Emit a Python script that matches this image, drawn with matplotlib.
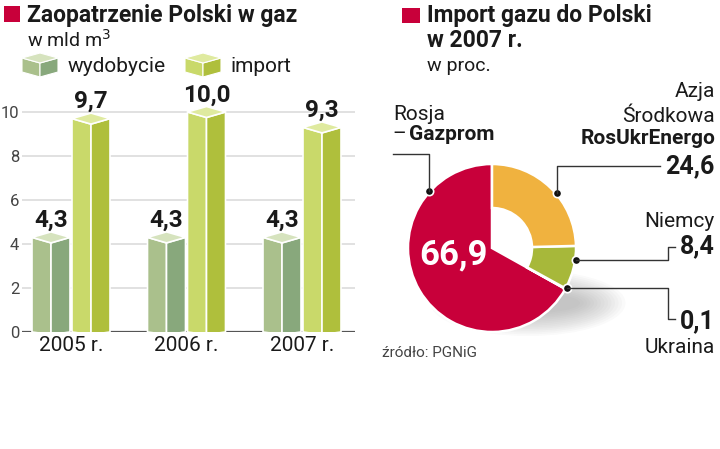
import numpy as np
import matplotlib
matplotlib.use("Agg")
import matplotlib.pyplot as plt
from matplotlib.patches import Polygon, Rectangle, Ellipse

plt.rcParams['font.family'] = ['Roboto', 'DejaVu Sans']

# ──────────────────────────────────────────────────────────────
# DANE
# ──────────────────────────────────────────────────────────────
years = ["2005 r.", "2006 r.", "2007 r."]
wydobycie = [4.3, 4.3, 4.3]
import_gaz = [9.7, 10.0, 9.3]
y_ticks = [0, 2, 4, 6, 8, 10]

pie_names = ["Rosja – Gazprom", "Azja Środkowa RosUkrEnergo", "Niemcy", "Ukraina"]
pie_values = [66.9, 24.6, 8.4, 0.1]
# ──────────────────────────────────────────────────────────────

RED = "#C8003A"
ORANGE = "#F0B23F"
GREEN_PIE = "#A7B83A"
WYD = ("#AAC08C", "#88A87C", "#D6E3BE")   # lewa, prawa, góra
IMP = ("#C9D96A", "#AFBF3C", "#DFEA9F")
TXT = "#1a1a1a"

W, H = 720, 449
fig = plt.figure(figsize=(W / 100, H / 100), dpi=100)


def fr(x0, y0, x1, y1):
    """prostokąt w pikselach (góra-lewo) -> ułamki figury"""
    return [x0 / W, 1 - y1 / H, (x1 - x0) / W, (y1 - y0) / H]


def num(v):
    return f"{v:.1f}".replace(".", ",")


# ── Wykres słupkowy ──────────────────────────────────────────
ax = fig.add_axes(fr(22, 90, 355, 332))
px_unit = 115.5
ax.set_xlim((22 - 71) / px_unit, (355 - 71) / px_unit)
ax.set_ylim(0, 11)
for s in ax.spines.values():
    s.set_visible(False)
ax.set_yticks(y_ticks)
ax.set_yticklabels([str(t) for t in y_ticks], fontsize=12, color="#444")
ax.set_xticks(range(len(years)))
ax.set_xticklabels(years, fontsize=15, color=TXT)
ax.tick_params(length=0)
ax.tick_params(axis="y", pad=2)
ax.tick_params(axis="x", pad=3)
ax.yaxis.grid(True, color="#D8D8D8", lw=1.1)
ax.set_axisbelow(True)
ax.axhline(0, color="#555", lw=1.6, zorder=1)

half = 19 / px_unit
off = 20 / px_unit
d = 0.25


def bar3d(x, v, cols):
    xl, xr = x - half, x + half
    face_kw = dict(ec="white", lw=1.2, zorder=3, joinstyle="miter")
    ax.add_patch(Polygon([(xl, 0), (xl, v), (x, v - d), (x, -0.12)], fc=cols[0], **face_kw))
    ax.add_patch(Polygon([(x, -0.12), (x, v - d), (xr, v), (xr, 0)], fc=cols[1], **face_kw))
    ax.add_patch(Polygon([(xl, v), (x, v - d), (xr, v), (x, v + d)], fc=cols[2], **face_kw))
    ax.annotate(num(v), xy=(x, v + d), xytext=(0, 3.5),
                textcoords="offset points", ha="center", va="baseline",
                fontsize=17.5, fontweight="bold", color=TXT, annotation_clip=False)


for i in range(len(years)):
    bar3d(i - off, wydobycie[i], WYD)
    bar3d(i + off, import_gaz[i], IMP)

# ── Wykres kołowy ────────────────────────────────────────────
PCX, PCY, SC = 492, 248, 100.0   # środek w px, px na jednostkę
R_OUT, R_IN = 0.84, 0.40
pax = fig.add_axes(fr(PCX - 150, PCY - 150, PCX + 150, PCY + 150))
pax.set_xlim(-1.5, 1.5)
pax.set_ylim(-1.5, 1.5)
pax.set_aspect("equal")
pax.axis("off")

# cień (rozmyty)
for k in range(14):
    pax.add_patch(Ellipse((0.36, -0.55), 1.95 - k * 0.07, 0.66 - k * 0.035,
                          fc="#8c8c8c", ec="none", alpha=0.045, zorder=0))

order = [0, 3, 2, 1]   # przeciwnie do ruchu wskazówek od godz. 12
colors = {0: RED, 1: ORANGE, 2: GREEN_PIE, 3: GREEN_PIE}
wedges, _ = pax.pie([pie_values[j] for j in order], startangle=90, counterclock=True,
                    radius=R_OUT, colors=[colors[j] for j in order],
                    wedgeprops=dict(ec="white", lw=1.8))
for w, j in zip(wedges, order):
    w.set_zorder(2)
    if j != 0:
        w.set_width(R_OUT - R_IN)
pax.set_xlim(-1.5, 1.5)
pax.set_ylim(-1.5, 1.5)

pax.text(-0.39, -0.07, num(pie_values[0]), ha="center", va="center",
         fontsize=25, fontweight="bold", color="white", zorder=5)

# punkty odnośników (kąty w stopniach)
dot_ang = {0: 138, 1: 40, 2: -8, 3: -28}
dot_px = {}
for j, a in dot_ang.items():
    r = 0.85
    x, y = r * np.cos(np.radians(a)), r * np.sin(np.radians(a))
    pax.plot(x, y, "o", ms=6, mfc="#111", mec="white", mew=1.2, zorder=6, clip_on=False)
    dot_px[j] = (PCX + x * SC, PCY - y * SC)

# ── Warstwa tekstu (piksele) ─────────────────────────────────
ov = fig.add_axes([0, 0, 1, 1], zorder=10)
ov.set_xlim(0, W)
ov.set_ylim(H, 0)
ov.axis("off")

ov.add_patch(Rectangle((4, 6), 16, 16, fc=RED, ec="none"))
ov.text(27, 22, "Zaopatrzenie Polski w gaz", fontsize=16.5, fontweight="bold",
        color=TXT, va="baseline")
ov.text(27, 47, "w mld m$^3$", fontsize=14, color=TXT, va="baseline")


def cube(cx, top, hw, dd, h, cols):
    L, B, R, F = (cx - hw, top + dd), (cx, top), (cx + hw, top + dd), (cx, top + 2 * dd)
    ov.add_patch(Polygon([L, F, (cx, top + 2 * dd + h), (cx - hw, top + dd + h)],
                         fc=cols[0], ec="white", lw=0.8))
    ov.add_patch(Polygon([F, R, (cx + hw, top + dd + h), (cx, top + 2 * dd + h)],
                         fc=cols[1], ec="white", lw=0.8))
    ov.add_patch(Polygon([L, B, R, F], fc=cols[2], ec="white", lw=0.8))


cube(40, 53, 18, 5, 14, WYD)
ov.text(68, 72, "wydobycie", fontsize=15, color=TXT, va="baseline")
cube(203, 53, 18, 5, 14, IMP)
ov.text(230, 72, "import", fontsize=15, color=TXT, va="baseline")

ov.add_patch(Rectangle((402, 8), 18, 15, fc=RED, ec="none"))
ov.text(427, 22, "Import gazu do Polski", fontsize=16.5, fontweight="bold",
        color=TXT, va="baseline")
ov.text(427, 47, "w 2007 r.", fontsize=16.5, fontweight="bold", color=TXT, va="baseline")
ov.text(427, 71, "w proc.", fontsize=14, color=TXT, va="baseline")

# Rosja – Gazprom
ov.text(393, 120, "Rosja", fontsize=15, color=TXT, va="baseline")
ov.text(392, 140, "–", fontsize=15, color=TXT, va="baseline")
ov.text(409, 140, "Gazprom", fontsize=15, fontweight="bold", color=TXT, va="baseline")
x0, y0 = dot_px[0]
ov.plot([393, x0, x0], [154, 154, y0], color="#333", lw=1, zorder=1)

# Azja Środkowa
ov.text(715, 97, "Azja", fontsize=15, color=TXT, va="baseline", ha="right")
ov.text(715, 122, "Środkowa", fontsize=15, color=TXT, va="baseline", ha="right")
ov.text(715, 144, "RosUkrEnergo", fontsize=15, fontweight="bold", color=TXT,
        va="baseline", ha="right")
ov.text(715, 173, num(pie_values[1]), fontsize=18,
        fontweight="bold", color=TXT, va="baseline", ha="right")
x1, y1 = dot_px[1]
ov.plot([660, x1, x1], [166, 166, y1], color="#333", lw=1)

# Niemcy
ov.text(715, 227, "Niemcy", fontsize=15, color=TXT, va="baseline", ha="right")
ov.text(715, 253, num(pie_values[2]), fontsize=18,
        fontweight="bold", color=TXT, va="baseline", ha="right")
x2, y2 = dot_px[2]
ov.plot([x2, 668, 668, 675], [y2, y2, 247, 247], color="#333", lw=1)

# Ukraina
ov.text(715, 328, num(pie_values[3]), fontsize=18,
        fontweight="bold", color=TXT, va="baseline", ha="right")
ov.text(715, 353, "Ukraina", fontsize=15, color=TXT, va="baseline", ha="right")
x3, y3 = dot_px[3]
ov.plot([x3, 668, 668, 675], [y3, y3, 319, 319], color="#333", lw=1)

ov.text(382, 357, "źródło: PGNiG", fontsize=11, color="#444", va="baseline")

fig.savefig("out.png", dpi=100, facecolor="white")
